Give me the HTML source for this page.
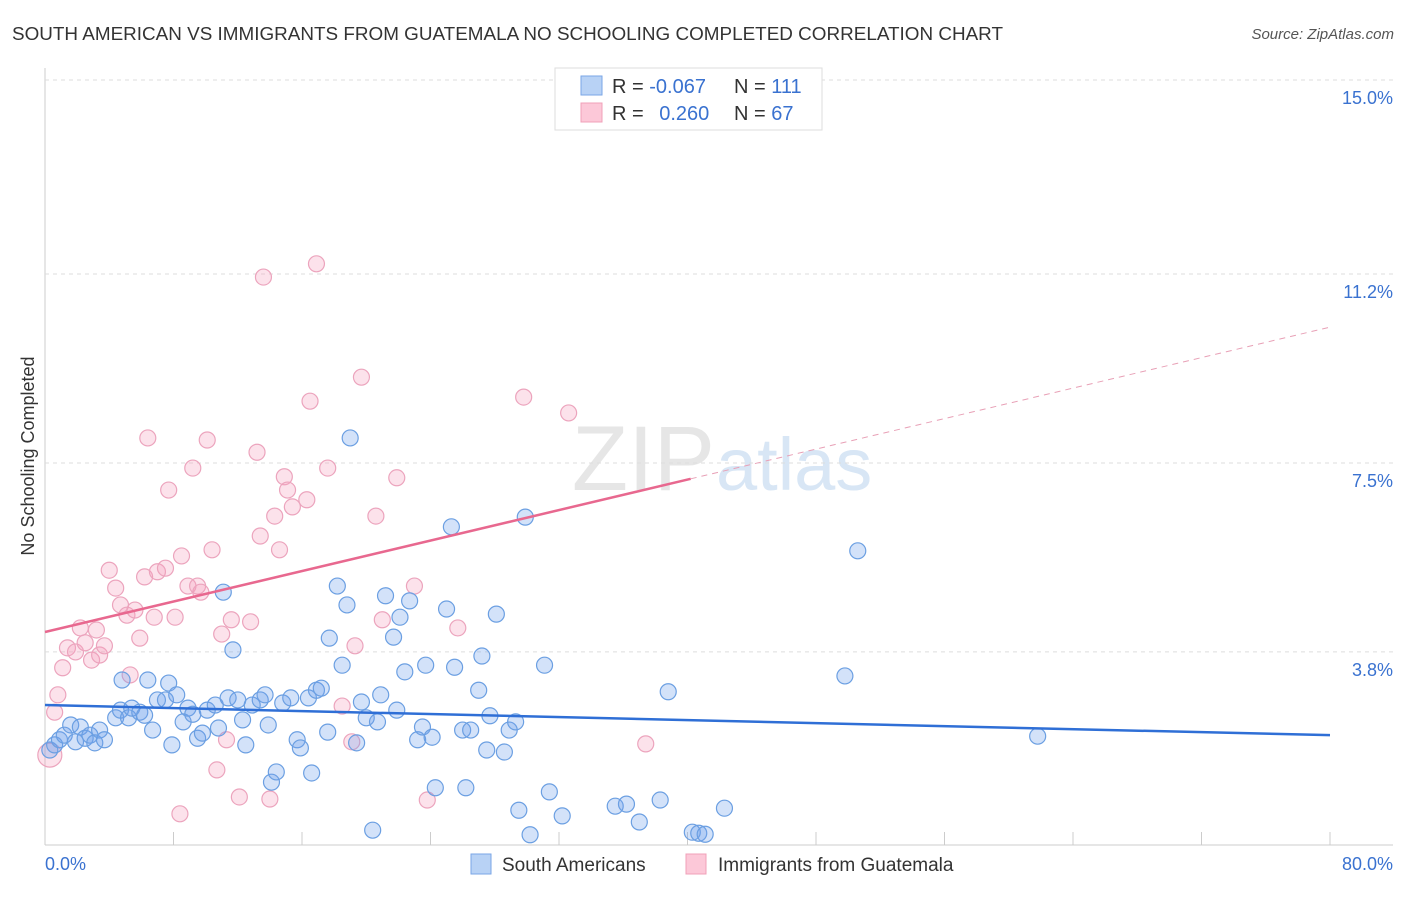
<!DOCTYPE html>
<html><head><meta charset="utf-8"><style>
body{margin:0;background:#fff;font-family:"Liberation Sans",sans-serif}
svg text{font-family:"Liberation Sans",sans-serif}
</style></head><body>
<svg id="c" width="1406" height="892" xmlns="http://www.w3.org/2000/svg">
<text x="12" y="40" font-size="18" fill="#333" textLength="991" lengthAdjust="spacingAndGlyphs">SOUTH AMERICAN VS IMMIGRANTS FROM GUATEMALA NO SCHOOLING COMPLETED CORRELATION CHART</text>
<text x="1394" y="39" font-size="15" fill="#555" font-style="italic" text-anchor="end">Source: ZipAtlas.com</text>
<text x="715" y="490" font-size="92" fill="#e6e6e6" text-anchor="end" font-family="Liberation Serif">ZIP</text>
<text x="716" y="490" font-size="74" fill="#d8e6f5">atlas</text>
<g id="grid"></g><g id="pts"></g><g id="lines"></g>
<text transform="translate(34,456) rotate(-90)" font-size="18" fill="#333" text-anchor="middle">No Schooling Completed</text>
<g>
<rect x="555" y="68" width="267" height="62" fill="#fff" stroke="#ddd"/>
<rect x="581" y="76" width="21" height="19" fill="#b8d2f5" stroke="#7aa6e6"/>
<rect x="581" y="103" width="21" height="19" fill="#fcc8d8" stroke="#f0a0b8"/>
<text x="612" y="93" font-size="20" fill="#333">R = <tspan fill="#3a72d0">-0.067</tspan></text>
<text x="734" y="93" font-size="20" fill="#333">N = <tspan fill="#3a72d0">111</tspan></text>
<text x="612" y="120" font-size="20" fill="#333">R = <tspan fill="#3a72d0" dx="10">0.260</tspan></text>
<text x="734" y="120" font-size="20" fill="#333">N = <tspan fill="#3a72d0">67</tspan></text>
</g>
<g>
<rect x="471" y="854" width="20" height="20" fill="#b8d2f5" stroke="#7aa6e6"/>
<text x="502" y="871" font-size="19" fill="#333">South Americans</text>
<rect x="686" y="854" width="20" height="20" fill="#fcc8d8" stroke="#f0a0b8"/>
<text x="718" y="871" font-size="19" fill="#333">Immigrants from Guatemala</text>
</g>
</svg>
<script>
const yTicks=[15.0,11.2,7.5,3.8];
const yTickLabels=["15.0%","11.2%","7.5%","3.8%"];
const xTickLabels=["0.0%","80.0%"];
const blueX=[0.3,0.6,0.9,1.2,1.6,1.9,2.2,2.5,2.8,3.1,3.4,3.7,4.4,4.7,4.8,5.2,5.4,5.9,6.2,6.4,6.7,7.0,7.5,7.7,7.9,8.2,8.6,8.9,9.2,9.5,9.8,10.1,10.6,10.8,11.1,11.4,11.7,12.0,12.3,12.5,12.9,13.4,13.7,13.9,14.1,14.4,14.8,15.3,15.7,15.9,16.4,16.6,16.9,17.2,17.6,17.7,18.2,18.5,18.8,19.0,19.4,19.7,20.0,20.4,20.7,20.9,21.2,21.7,21.9,22.1,22.4,22.7,23.2,23.5,23.7,24.1,24.3,25.0,25.3,25.5,26.0,26.2,26.5,27.0,27.2,27.5,27.7,28.1,28.6,28.9,29.3,29.5,29.9,30.2,31.1,31.4,32.2,35.5,36.2,37.0,38.3,38.8,40.3,40.7,41.1,42.3,49.8,50.6,61.8];
const blueY=[1.88,1.98,2.08,2.17,2.37,2.04,2.33,2.11,2.17,2.02,2.27,2.08,2.51,2.66,3.25,2.51,2.70,2.62,2.56,3.25,2.27,2.86,2.86,3.19,1.98,2.96,2.43,2.70,2.58,2.11,2.21,2.66,2.76,2.31,4.97,2.90,3.84,2.86,2.47,1.98,2.76,2.86,2.96,2.37,1.25,1.45,2.80,2.90,2.08,1.92,2.90,1.43,3.05,3.09,2.23,4.07,5.09,3.54,4.72,7.99,2.02,2.82,2.51,0.31,2.43,2.96,4.90,4.09,2.66,4.48,3.41,4.80,2.08,2.33,3.54,2.13,1.14,4.64,6.25,3.50,2.27,1.14,2.27,3.05,3.72,1.88,2.55,4.54,1.84,2.27,2.43,0.70,6.44,0.22,3.54,1.06,0.59,0.78,0.82,0.47,0.90,3.02,0.27,0.25,0.23,0.74,3.33,5.78,2.15];
const pinkX=[0.3,0.6,0.8,1.1,1.4,1.9,2.2,2.5,2.9,3.2,3.4,3.7,4.0,4.4,4.7,5.1,5.3,5.6,5.9,6.2,6.4,6.8,7.0,7.5,7.7,8.1,8.4,8.5,8.9,9.2,9.5,9.7,10.1,10.4,10.7,11.0,11.3,11.6,12.1,12.8,13.2,13.4,13.6,14.0,14.3,14.6,14.9,15.1,15.4,16.3,16.5,16.9,17.6,18.5,19.1,19.3,19.7,20.6,21.0,21.9,23.0,23.8,25.7,29.8,32.6,37.4];
const pinkY=[1.78,2.62,2.96,3.49,3.88,3.80,4.27,3.98,3.64,4.23,3.74,3.92,5.40,5.05,4.72,4.52,3.35,4.62,4.07,5.27,7.99,4.48,5.37,5.44,6.97,4.48,0.63,5.68,5.09,7.40,5.09,4.97,7.95,5.80,1.49,4.15,2.08,4.43,0.96,4.39,7.71,6.07,11.14,0.92,6.46,5.80,7.23,6.97,6.64,6.78,8.71,11.40,7.40,2.74,2.04,3.92,9.18,6.46,4.43,7.21,5.09,0.90,4.27,8.79,8.48,2.00];
const blueTrend=[2.76,2.17];
const pinkTrend=[4.19,10.16];
const NS="http://www.w3.org/2000/svg";
const X=v=>45+v/80*1285, Y=v=>846-v*51.07;
function mk(t,a,p){const e=document.createElementNS(NS,t);for(const k in a)e.setAttribute(k,a[k]);p.appendChild(e);return e;}
const g=document.getElementById('grid');
let ax=mk('line',{x1:45,y1:68,x2:45,y2:845,stroke:'#ccc'},g);


let bx=mk('line',{x1:45,y1:845,x2:1393,y2:845,stroke:'#ccc'},g);


yTicks.forEach((v,i)=>{
 let l=mk('line',{x1:45,x2:1393,y1:Y(v),y2:Y(v),stroke:'#ddd','stroke-dasharray':'4,4'},g);
 
 
 let t=mk('text',{x:1393,y:Y(v)+24,'font-size':18,fill:'#3a72d0','text-anchor':'end'},g);t.textContent=yTickLabels[i];
 
 
});
for(let i=0;i<=10;i++){let l=mk('line',{x1:X(i*8),x2:X(i*8),y1:832,y2:845,stroke:'#ccc'},g);
 
 }
[[0,45,'start'],[1,1393,'end']].forEach(([i,x,a])=>{let t=mk('text',{x:x,y:870,'font-size':18,fill:'#3a72d0','text-anchor':a},g);t.textContent=xTickLabels[i];
 
 });
const p=document.getElementById('pts');
pinkX.forEach((v,i)=>{let c=mk('circle',{cx:X(v),cy:Y(pinkY[i]),r:i==0?12:8,fill:'rgba(245,160,190,0.3)',stroke:'#eca4bd','stroke-width':1.2},p);
 
 });
blueX.forEach((v,i)=>{let c=mk('circle',{cx:X(v),cy:Y(blueY[i]),r:8,fill:'rgba(110,160,235,0.3)',stroke:'#6b9fe2','stroke-width':1.2},p);
 
 });
const L=document.getElementById('lines');
let b=mk('line',{x1:X(0),y1:Y(blueTrend[0]),x2:X(80),y2:Y(blueTrend[1]),stroke:'#2f6fd6','stroke-width':2.5},L);


const pm=x=>pinkTrend[0]+(pinkTrend[1]-pinkTrend[0])*x/80;
let ps=mk('line',{x1:X(0),y1:Y(pm(0)),x2:X(40.2),y2:Y(pm(40.2)),stroke:'#e8688f','stroke-width':2.5},L);


let pd=mk('line',{x1:X(40.2),y1:Y(pm(40.2)),x2:X(80),y2:Y(pm(80)),stroke:'#e8a0b6','stroke-width':1,'stroke-dasharray':'6,5'},L);


</script>
</body></html>
